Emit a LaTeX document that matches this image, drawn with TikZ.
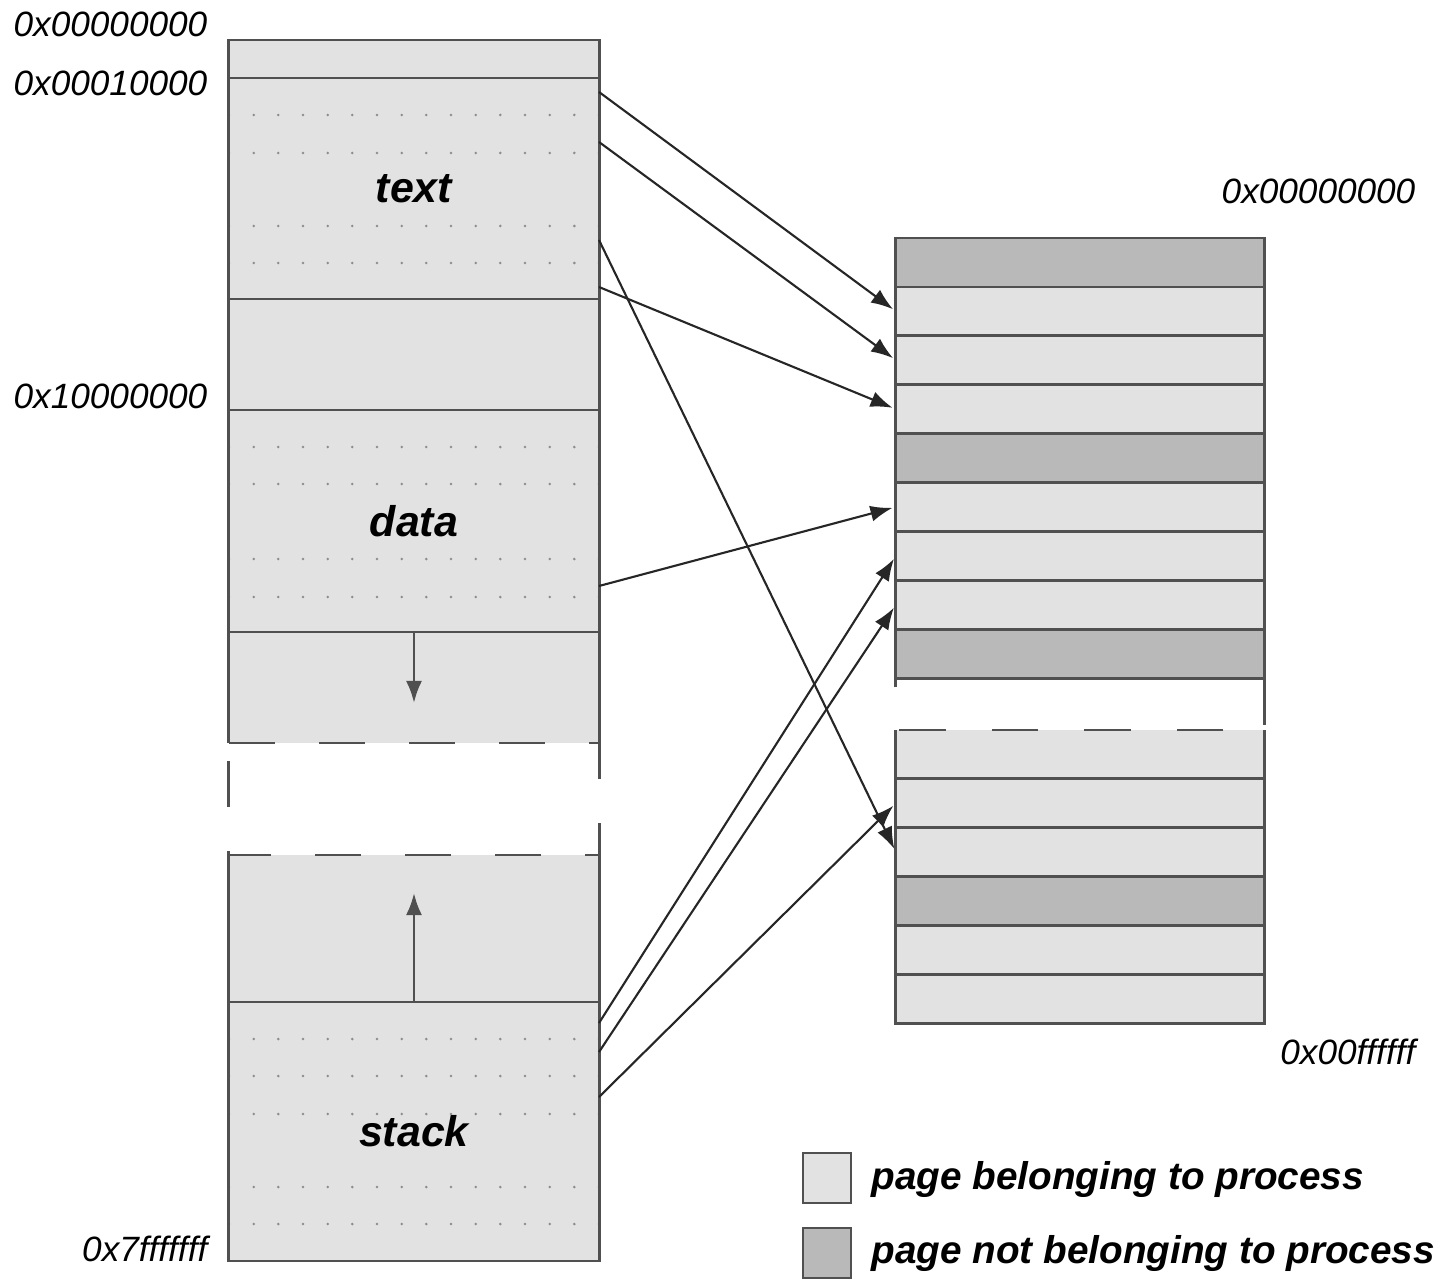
\documentclass[tikz,border=0pt]{standalone}
\usepackage{fontspec}
\setmainfont{Liberation Sans}
\usetikzlibrary{arrows.meta}
\definecolor{pagein}{HTML}{E2E2E2}
\definecolor{pageout}{HTML}{B9B9B9}
\definecolor{edge}{HTML}{505050}
\definecolor{dotc}{HTML}{8C8C8C}
\tikzset{
  seg/.style={rectangle,fill=pagein,minimum width=3.7cm,inner sep=0,outer sep=0,
    font=\fontsize{12.2}{14}\selectfont\bfseries\itshape},
  page/.style={rectangle,fill=pagein,minimum width=3.68cm,minimum height=0.489cm,inner sep=0,outer sep=0},
  border/.style={draw=edge,line width=0.8pt},
  hole/.style={draw=edge,line width=0.8pt,dash pattern=on 0.46cm off 0.44cm},
  map/.style={->,draw=black!85,line width=0.6pt,shorten >=1pt},
  growarrow/.style={->,draw=edge,line width=0.8pt},
  addr/.style={font=\fontsize{10}{12}\selectfont\itshape,inner sep=0},
  legendtext/.style={font=\fontsize{11}{13}\selectfont\bfseries\itshape,anchor=west,inner sep=0}
}
\begin{document}
\begin{tikzpicture}[x=0.01cm,y=-0.01cm,>={Latex[length=2.2mm,width=1.6mm]}]
  \useasboundingbox (0,0) rectangle (1439,1279);

  % virtual address space
  \node[seg,minimum height=0.38cm] (low) at (414,59) {};
  \node[seg,minimum height=2.21cm] (text) at (414,188.5) {text};
  \node[seg,minimum height=1.11cm] (textgap) at (414,354.5) {};
  \node[seg,minimum height=2.22cm] (data) at (414,521) {data};
  \node[seg,minimum height=1.11cm] (heap) at (414,687.5) {};
  \node[seg,minimum height=1.47cm] (stackgap) at (414,928.5) {};
  \node[seg,minimum height=2.59cm] (stack) at (414,1131.5) {stack};

  \foreach \y in {115,153,226,263,447,484,559,597,1039,1076,1114,1187,1224}
    \foreach \k in {0,...,15}
      \fill[dotc] ({229+24.667*\k},\y) circle[radius=0.4pt];

  \draw[border] (heap.south west) -- (low.north west) -- (low.north east) -- (heap.south east);
  \foreach \n in {low,text,textgap,data}
    \draw[border] (\n.south west) -- (\n.south east);
  \draw[hole] (heap.south west) -- (heap.south east) -- (stackgap.north east) -- (stackgap.north west) -- cycle;
  \draw[border] (stackgap.north west) -- (stack.south west) -- (stack.south east) -- (stackgap.north east);
  \draw[border] (stack.north west) -- (stack.north east);

  \coordinate (heaptip) at (414,703);
  \coordinate (stacktip) at (414,893);
  \draw[growarrow] (heap.north) -- (heaptip);
  \draw[growarrow] (stack.north) -- (stacktip);

  \node[addr,anchor=east] (va0) at (208,24) {0x00000000};
  \node[addr,anchor=east] (va1) at (208,83) {0x00010000};
  \node[addr,anchor=east] (va2) at (208,396) {0x10000000};
  \node[addr,anchor=east] (va3) at (208,1249) {0x7fffffff};

  % physical memory
  \foreach \i/\c in {1/pageout,2/pagein,3/pagein,4/pagein,5/pageout,6/pagein,7/pagein,8/pagein,9/pageout}
    \node[page,fill=\c] (p\i) at (1080,{238+48.9*(\i-0.5)}) {};
  \foreach \i/\c in {1/pagein,2/pagein,3/pagein,4/pageout,5/pagein,6/pagein}
    \node[page,fill=\c] (q\i) at (1080,{730+48.85*(\i-0.5)}) {};

  \draw[border] (p9.south west) -- (p1.north west) -- (p1.north east) -- (p9.south east);
  \foreach \i in {1,...,9}
    \draw[border] (p\i.south west) -- (p\i.south east);
  \draw[hole,dash pattern=on 0.465cm off 0.46cm] (p9.south east) -- (q1.north east) -- (q1.north west) -- (p9.south west) -- cycle;
  \draw[border] (q1.north west) -- (q6.south west) -- (q6.south east) -- (q1.north east);
  \foreach \i in {1,...,5}
    \draw[border] (q\i.south west) -- (q\i.south east);

  \node[addr,anchor=east] (pa0) at (1416,191) {0x00000000};
  \node[addr,anchor=east] (pa1) at (1416,1052) {0x00ffffff};

  % page mappings
  \coordinate (m1) at (599,92);
  \coordinate (m2) at (599,142);
  \coordinate (m3) at (599,240);
  \coordinate (m4) at (599,287);
  \coordinate (m5) at (599,586);
  \coordinate (m6) at (599,1023);
  \coordinate (m7) at (599,1052);
  \coordinate (m8) at (599,1097);
  \draw[map] (m1) -- (p2.west);
  \draw[map] (m2) -- (p3.west);
  \draw[map] (m4) -- (p4.west);
  \draw[map] (m3) -- (q3.west);
  \draw[map] (m5) -- (p6.west);
  \draw[map] (m6) -- (p7.west);
  \draw[map] (m7) -- (p8.west);
  \draw[map] (m8) -- (q2.west);

  % legend
  \node[page,fill=pagein,border,minimum width=0.48cm,minimum height=0.5cm] (keyin) at (827,1178) {};
  \node[page,fill=pageout,border,minimum width=0.48cm,minimum height=0.5cm] (keyout) at (827,1253) {};
  \node[legendtext] (keyintext) at (871,1179) {page belonging to process};
  \node[legendtext] (keyouttext) at (871,1253) {page not belonging to process};
\end{tikzpicture}
\end{document}
